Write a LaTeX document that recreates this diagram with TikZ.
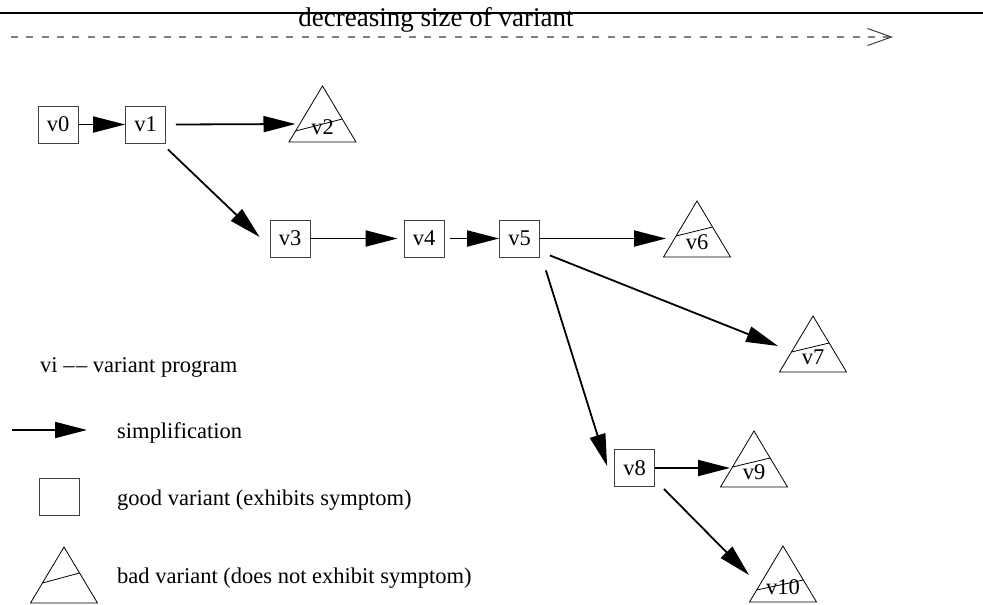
\documentclass[tikz,border=0pt]{standalone}
\usepackage{fontspec}
\setmainfont{Liberation Serif}
\usetikzlibrary{arrows.meta}
\newcommand\badvar[6]{%
  \draw[tri] (#2,#3) -- (#2-33.5,#3+56) -- (#2+33.5,#3+56) -- cycle;
  \draw[tri] (#2-33.5+#5*0.598,#3+56-#5) -- (#2+33.5-#6*0.598,#3+56-#6);
  \node[trilabel] (#1) at (#2,#3+41) {#4};
}
\begin{document}
\begin{tikzpicture}[x=1pt,y=-1pt,
  goodbox/.style={draw=black!75, line width=0.8pt, minimum width=40pt, minimum height=37pt, inner sep=0pt, font=\fontsize{22.5}{24}\selectfont},
  tri/.style={draw=black, line width=0.8pt},
  trilabel/.style={inner sep=0pt, font=\fontsize{22.5}{24}\selectfont},
  simp/.style={line width=1.8pt, -{Triangle[length=32pt,width=16pt]}},
  lbl/.style={font=\fontsize{22.5}{24}\selectfont, anchor=base west, inner sep=0pt},
]
\useasboundingbox (0,0) rectangle (983,605);

% title and top rule
\draw[line width=2pt] (0,12.7) -- (983,12.7);
\node[anchor=base, inner sep=0pt, font=\fontsize{27}{29}\selectfont] (title) at (436,27) {decreasing size of variant};
\coordinate (ds) at (11,37);
\coordinate (de) at (893,37);
\draw[black!50, line width=1.2pt, dash pattern=on 7pt off 8.3pt,
  -{Straight Barb[length=24pt,width=17pt,line width=1pt,color=black!75]}] (ds) -- (de);

% good variants
\node[goodbox] (v0) at (58,124.5) {v0};
\node[goodbox] (v1) at (145.5,124.5) {v1};
\node[goodbox] (v3) at (290,238.5) {v3};
\node[goodbox] (v4) at (424,238.5) {v4};
\node[goodbox] (v5) at (519.5,238.5) {v5};
\node[goodbox] (v8) at (634.5,468) {v8};

% bad variants
\badvar{v2}{322.5}{86}{v2}{11}{23}
\badvar{v6}{697}{201}{v6}{21}{30}
\badvar{v7}{813}{316}{v7}{20}{29}
\badvar{v9}{754}{431}{v9}{20}{29}
\badvar{v10}{783}{546}{v10}{12}{22}

% simplifications
\draw[simp] (v0.east) -- (v1.west);
\draw[simp] ([xshift=10pt]v1.east) -- ([shift={(-27,-3)}]v2.center);
\draw[simp] ([shift={(2,6)}]v1.south east) -- ([shift={(-10,-1.5)}]v3.west);
\draw[simp] (v3.east) -- ([xshift=-6pt]v4.west);
\draw[simp] ([xshift=6pt]v4.east) -- (v5.west);
\draw[simp] (v5.east) -- ([shift={(-31,-3.5)}]v6.center);
\draw[simp] ([shift={(10,-2)}]v5.south east) -- ([shift={(-35,-11)}]v7.center);
\draw[simp] ([shift={(6,13)}]v5.south east) -- ([shift={(-7,-2)}]v8.west);
\draw[simp] (v8.east) -- ([shift={(-24,-4)}]v9.center);
\draw[simp] ([shift={(9,2)}]v8.south east) -- ([shift={(-34,-12)}]v10.center);

% legend
\node[lbl] (lvi) at (40,372) {vi –\kern1.5pt– variant program};
\coordinate (la) at (12,430);
\coordinate (lb) at (87,430);
\draw[simp] (la) -- (lb);
\node[lbl] (lsimp) at (117,438) {simplification};
\node[goodbox] (lgood) at (59,497) {};
\node[lbl] (lgoodt) at (117,505) {good variant (exhibits symptom)};
\draw[tri] (64,547) -- (30.5,603) -- (97.5,603) -- cycle;
\draw[tri] (42.5,583) -- (79.5,573);
\node[lbl] (lbadt) at (117,583) {bad variant (does not exhibit symptom)};
\end{tikzpicture}
\end{document}
